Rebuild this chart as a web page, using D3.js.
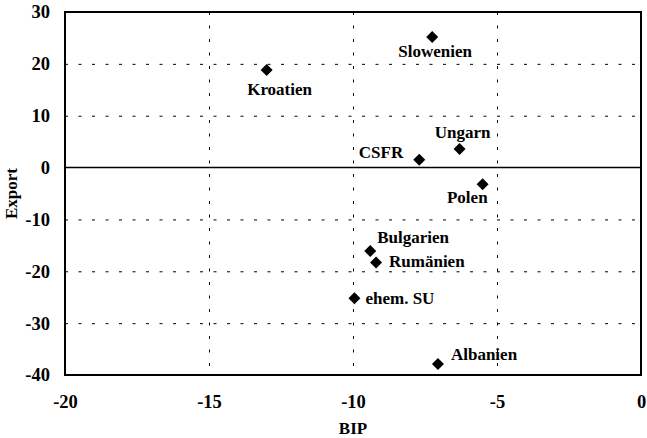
<!DOCTYPE html>
<html>
<head>
<meta charset="utf-8">
<script src="https://cdn.jsdelivr.net/npm/d3@7"></script>
<style>
  body { margin: 0; background: #fff; }
  text { font-family: "Liberation Serif", "Times New Roman", serif; font-weight: bold; fill: #000; }
  .grid line { stroke: #000; stroke-width: 1; stroke-dasharray: 3, 10.5; }
</style>
</head>
<body>
<div id="chart"></div>
<script>
// data
const countries = ["Slowenien", "Kroatien", "CSFR", "Ungarn", "Polen", "Bulgarien", "Rumänien", "ehem. SU", "Albanien"];
const bip = [-7.25, -13.0, -7.7, -6.3, -5.5, -9.4, -9.2, -9.95, -7.05];
const exportVals = [25.2, 18.8, 1.5, 3.6, -3.2, -16.1, -18.3, -25.2, -37.9];
const xTicks = [-20, -15, -10, -5, 0];
const yTicks = [30, 20, 10, 0, -10, -20, -30, -40];

// where each label sits relative to its marker
const labelPlace = {
    "Slowenien": { dx: 3, dy: 20, anchor: "middle" },
    "Kroatien": { dx: 13, dy: 25, anchor: "middle" },
    "CSFR": { dx: -16, dy: -2, anchor: "end" },
    "Ungarn": { dx: 3, dy: -11, anchor: "middle" },
    "Polen": { dx: 5, dy: 19, anchor: "end" },
    "Bulgarien": { dx: 7, dy: -8, anchor: "start" },
    "Rumänien": { dx: 13, dy: 5, anchor: "start" },
    "ehem. SU": { dx: 11, dy: 6, anchor: "start" },
    "Albanien": { dx: 13, dy: -4, anchor: "start" }
};

const margin = { top: 12, right: 6, bottom: 63, left: 65 };
const width = 647 - margin.left - margin.right;
const height = 438 - margin.top - margin.bottom;
const serif = '"Liberation Serif", "Times New Roman", serif';
const fmt = d => String(d); // plain hyphen, as in the original

const svg = d3.select("#chart")
    .append("svg")
    .attr("width", 647)
    .attr("height", 438)
    .append("g")
    .attr("transform", `translate(${margin.left}, ${margin.top})`);

const x = d3.scaleLinear().domain([-20, 0]).range([0, width]);
const y = d3.scaleLinear().domain([-40, 30]).range([height, 0]);

// dotted grid
svg.append("g")
    .attr("class", "grid")
    .call(d3.axisLeft(y).tickValues(yTicks.filter(d => d !== 0 && d !== 30 && d !== -40)).tickSize(-width).tickFormat(""))
    .call(g => g.select(".domain").remove());
svg.append("g")
    .attr("class", "grid")
    .call(d3.axisBottom(x).tickValues(xTicks.filter(d => d !== -20 && d !== 0)).tickSize(height).tickFormat(""))
    .call(g => g.select(".domain").remove());

// zero line
svg.append("line")
    .attr("x1", 0).attr("x2", width)
    .attr("y1", y(0)).attr("y2", y(0))
    .attr("stroke", "#000")
    .attr("stroke-width", 1.5);

// frame
svg.append("rect")
    .attr("width", width)
    .attr("height", height)
    .attr("fill", "none")
    .attr("stroke", "#000")
    .attr("stroke-width", 2);

// tick labels
svg.append("g")
    .attr("transform", `translate(0, ${height})`)
    .call(d3.axisBottom(x).tickValues(xTicks).tickFormat(fmt).tickSize(0).tickPadding(20))
    .attr("font-family", serif)
    .call(g => g.select(".domain").remove())
    .selectAll("text")
    .style("font-family", serif)
    .style("font-size", "18.5px");

svg.append("g")
    .call(d3.axisLeft(y).tickValues(yTicks).tickFormat(fmt).tickSize(0).tickPadding(15))
    .attr("font-family", serif)
    .call(g => g.select(".domain").remove())
    .selectAll("text")
    .style("font-family", serif)
    .style("font-size", "18.5px");

svg.append("text")
    .attr("x", width / 2)
    .attr("y", height + 59)
    .attr("text-anchor", "middle")
    .style("font-size", "17px")
    .text("BIP");

svg.append("text")
    .attr("transform", `translate(${-48}, ${height / 2}) rotate(-90)`)
    .attr("text-anchor", "middle")
    .style("font-size", "17px")
    .text("Export");

// points
const pts = countries.map((c, i) => ({ name: c, bip: bip[i], exp: exportVals[i] }));

svg.selectAll(".pt")
    .data(pts)
    .join("path")
    .attr("class", "pt")
    .attr("d", d3.symbol(d3.symbolSquare, 72))
    .attr("transform", d => `translate(${x(d.bip)}, ${y(d.exp)}) rotate(45)`)
    .attr("fill", "#000");

svg.selectAll(".lbl")
    .data(pts)
    .join("text")
    .attr("class", "lbl")
    .attr("x", d => x(d.bip) + labelPlace[d.name].dx)
    .attr("y", d => y(d.exp) + labelPlace[d.name].dy)
    .attr("text-anchor", d => labelPlace[d.name].anchor)
    .style("font-size", "17px")
    .text(d => d.name);
</script>
</body>
</html>
